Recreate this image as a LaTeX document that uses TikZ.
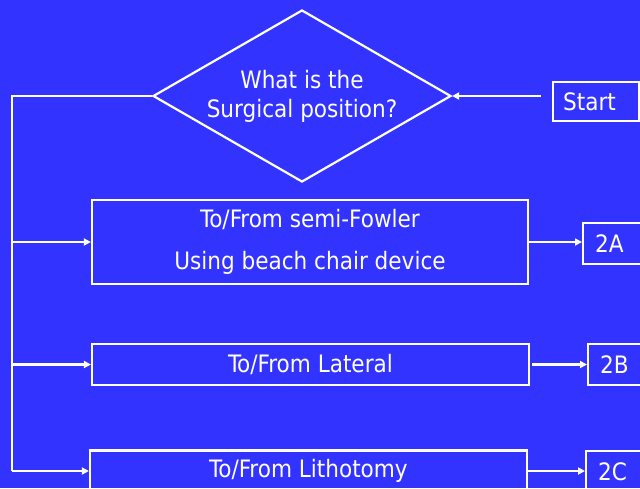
\documentclass[tikz,border=0pt]{standalone}
\usepackage{fontspec}
\setmainfont{DejaVu Sans Condensed}
\usetikzlibrary{shapes.geometric,arrows.meta}
\definecolor{slideblue}{RGB}{51,51,255}
\begin{document}
\begin{tikzpicture}[x=1pt,y=-1pt,
    line width=2.2pt,color=white,
    every node/.style={draw=white,text=white,font=\fontsize{24}{28}\selectfont,inner sep=0pt},
    stepbox/.style={rectangle,minimum height=41pt},
    tagbox/.style={rectangle,anchor=north west,minimum height=41pt,text width=80pt,align=left,inner xsep=12pt},
    arr/.style={draw=white,-{Triangle[length=7pt,width=7pt]}}]
  % canvas
  \fill[slideblue] (0,0) rectangle (640,488);
  \useasboundingbox (0,0) rectangle (640,488);
  \clip (0,0) rectangle (640,488);

  % decision
  \node[diamond,aspect=1.733,minimum width=298pt,minimum height=172pt,align=center,
        font=\fontsize{24}{29}\selectfont] (q) at (302,96)
        {What is the\\Surgical position?};

  % start box
  \node[rectangle,anchor=north west,minimum height=39pt,text width=66pt,
        align=left,inner xsep=10pt] (start) at (552,81) {Start};

  % positions
  \node[stepbox,minimum width=436pt,minimum height=84pt,align=center,
        font=\fontsize{24}{42}\selectfont] (b1) at (310,242)
        {To/From semi-Fowler\\Using beach chair device};
  \node[stepbox,minimum width=437pt] (b2) at (310.5,364.5) {To/From Lateral};
  \node[stepbox,minimum width=437pt] (b3) at (308.5,471) {To/From Lithotomy};

  % continuation tags
  \node[tagbox] (t2a) at (582,222) {2A};
  \node[tagbox] (t2b) at (587,343) {2B};
  \node[tagbox] (t2c) at (585,450) {2C};

  % connectors
  \draw[arr,shorten <=11pt] (start.west |- q.east) -- (q.east);
  \coordinate (bus) at (12,96);
  \draw (q.west) -- (bus) -- (bus |- b3.west);
  \draw[arr] (bus |- b1.west) -- (b1.west);
  \draw[arr] (bus |- b2.west) -- (b2.west);
  \draw[arr] (bus |- b3.west) -- (b3.west);
  \draw[arr] (b1.east) -- (b1.east -| t2a.west);
  \draw[arr,shorten <=2pt] (b2.east) -- (b2.east -| t2b.west);
  \draw[arr] (b3.east) -- (b3.east -| t2c.west);
\end{tikzpicture}
\end{document}
